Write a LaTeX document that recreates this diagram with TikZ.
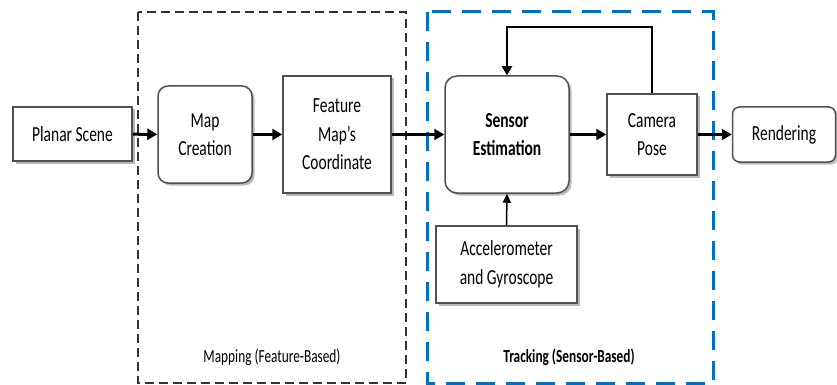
\documentclass[tikz,border=0pt]{standalone}
\usepackage{fontspec}
\setmainfont{Carlito}[FakeStretch=0.72]
\usetikzlibrary{arrows.meta,shadows}
\definecolor{trackblue}{RGB}{0,112,192}
\definecolor{boxline}{RGB}{80,80,80}
\tikzset{
  blk/.style={draw=boxline, line width=1.5pt, fill=white, align=center,
    inner sep=2pt, font=\fontsize{21.5}{28.5}\selectfont,
    drop shadow={shadow xshift=2.5pt, shadow yshift=-2.5pt, fill=black!50, opacity=0.55}},
  rblk/.style={blk, rounded corners=10pt},
  flow/.style={line width=3pt, -{Triangle[length=10pt,width=11pt]}},
  back/.style={line width=2.4pt, -{Triangle[length=9pt,width=10pt]}},
  feed/.style={line width=1.5pt, -{Triangle[length=9pt,width=8pt]}},
  grouplabel/.style={font=\fontsize{18.5}{22}\selectfont}
}
\begin{document}
\begin{tikzpicture}[x=1pt,y=-1pt]
\useasboundingbox (0,0) rectangle (837,385);

% group frames
\draw[line width=2pt, dash pattern=on 9pt off 5pt, black!80] (138,12) rectangle (406,383);
\draw[line width=3pt, dash pattern=on 19pt off 11pt, trackblue] (427,12) rectangle (713,383);
\node[grouplabel] (maplab) at (272,357) {Mapping (Feature-Based)};
\node[grouplabel, font=\fontsize{18.5}{22}\selectfont\bfseries] (tracklab) at (569,357) {Tracking (Sensor-Based)};

% blocks
\node[blk, minimum width=119pt, minimum height=54pt] (scene) at (72.5,134) {Planar Scene};
\node[rblk, minimum width=94pt, minimum height=97pt] (mapc) at (205,134.5) {Map\\Creation};
\node[blk, minimum width=108pt, minimum height=117pt] (feat) at (337,134.5) {Feature\\Map’s\\Coordinate};
\node[rblk, rounded corners=12pt, minimum width=124pt, minimum height=117pt, font=\fontsize{21.5}{28.5}\selectfont\bfseries] (sens) at (507,134.5) {Sensor\\Estimation};
\node[blk, minimum width=90pt, minimum height=81pt] (cam) at (652,134.5) {Camera\\Pose};
\node[rblk, rounded corners=7pt, minimum width=103pt, minimum height=55pt] (rend) at (784,134.5) {Rendering};
\node[blk, minimum width=141pt, minimum height=77pt] (acc) at (506.5,264.5) {Accelerometer\\and Gyroscope};

% connectors
\draw[flow] (scene) -- (mapc);
\draw[flow] (mapc) -- (feat);
\draw[flow] (feat) -- (sens);
\draw[flow] (sens) -- (cam);
\draw[flow] (cam) -- (rend);
\coordinate (loopR) at (652,27);
\coordinate (loopL) at (507,27);
\draw[back] (cam.north) -- (loopR) -- (loopL) -- (sens.north);
\draw[feed] (acc.north) -- (sens.south);
\end{tikzpicture}
\end{document}
